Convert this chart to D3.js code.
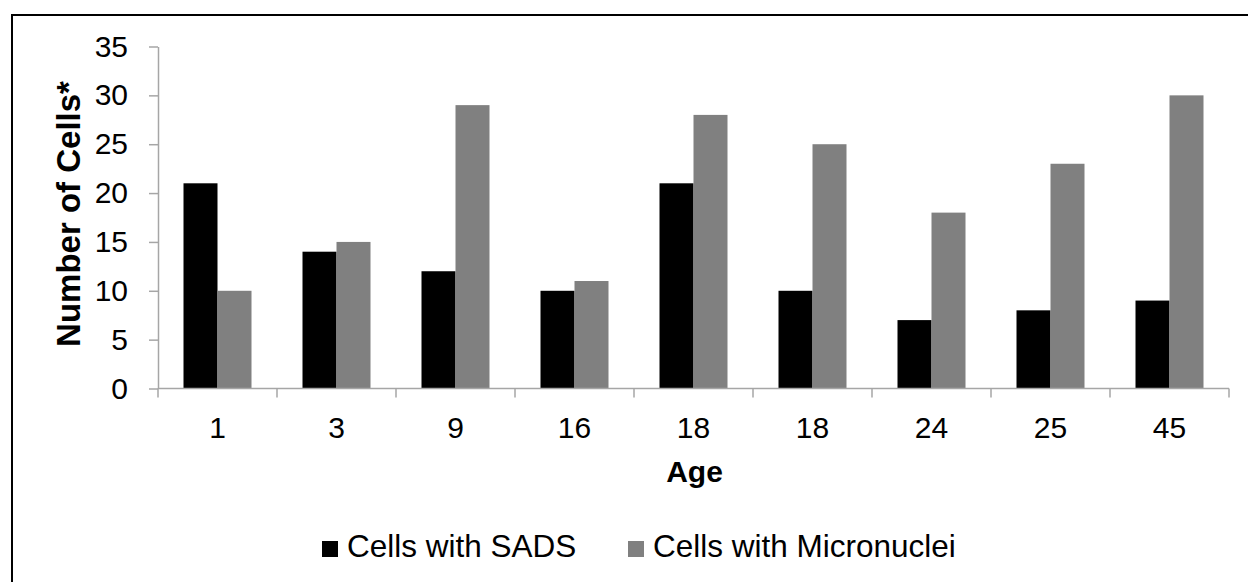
<!DOCTYPE html>
<html>
<head>
<meta charset="utf-8">
<script src="https://cdn.jsdelivr.net/npm/d3@7"></script>
<style>
  html, body { margin: 0; padding: 0; background: #fff; }
  svg { display: block; }
  text { font-family: "Liberation Sans", Arial, sans-serif; fill: #000; }
</style>
</head>
<body>
<script>
// Ages of the sampled individuals (one group of bars each)
const ages = ["1", "3", "9", "16", "18", "18", "24", "25", "45"];
// Cell counts per individual
const sadsCells = [21, 14, 12, 10, 21, 10, 7, 8, 9];
const micronucleiCells = [10, 15, 29, 11, 28, 25, 18, 23, 30];
const seriesNames = ["Cells with SADS", "Cells with Micronuclei"];
const seriesColors = ["#000000", "#808080"];
const yTicks = [0, 5, 10, 15, 20, 25, 30, 35];

const W = 1248, H = 582;
const plot = { left: 158, right: 1229, top: 46.5, bottom: 388.5 };

const svg = d3.select("body").append("svg")
  .attr("width", W).attr("height", H);

// Outer frame
svg.append("rect")
  .attr("x", 12).attr("y", 15)
  .attr("width", 1400).attr("height", 700)
  .attr("fill", "none").attr("stroke", "#000").attr("stroke-width", 2);

const x = d3.scaleBand()
  .domain(d3.range(ages.length))
  .range([plot.left, plot.right])
  .paddingInner(0).paddingOuter(0);

const y = d3.scaleLinear().domain([0, 35]).range([plot.bottom, plot.top]);

const groupPad = 25.5;
const x1 = d3.scaleBand()
  .domain([0, 1])
  .range([groupPad, x.bandwidth() - groupPad]);

const data = ages.map((a, i) => [sadsCells[i], micronucleiCells[i]]);

// Bars
const groups = svg.append("g").selectAll("g")
  .data(data).join("g")
  .attr("transform", (d, i) => `translate(${x(i)},0)`);

groups.selectAll("rect")
  .data(d => d.map((v, s) => ({ v, s })))
  .join("rect")
  .attr("x", d => x1(d.s))
  .attr("width", x1.bandwidth())
  .attr("y", d => y(d.v))
  .attr("height", d => y(0) - y(d.v))
  .attr("fill", d => seriesColors[d.s]);

const axisColor = "#a6a6a6";

// Y axis
const yAxis = svg.append("g")
  .attr("transform", `translate(${plot.left},0)`)
  .call(d3.axisLeft(y).tickValues(yTicks).tickSize(9).tickPadding(21).tickSizeOuter(0));
yAxis.select(".domain").attr("stroke", axisColor).attr("stroke-width", 1.5);
yAxis.selectAll(".tick line").attr("stroke", axisColor).attr("stroke-width", 1.5);
yAxis.selectAll(".tick text")
  .attr("font-size", 30)
  .attr("font-family", "Liberation Sans, Arial, sans-serif")
  .attr("fill", "#000");

// X axis: category ticks on band boundaries
const xAxisG = svg.append("g");
xAxisG.append("line")
  .attr("x1", plot.left).attr("x2", plot.right)
  .attr("y1", plot.bottom).attr("y2", plot.bottom)
  .attr("stroke", axisColor).attr("stroke-width", 1.5);
const boundaries = d3.range(ages.length + 1).map(i => i < ages.length ? x(i) : x(ages.length - 1) + x.bandwidth());
xAxisG.selectAll("line.tk").data(boundaries).join("line")
  .attr("class", "tk")
  .attr("x1", d => d).attr("x2", d => d)
  .attr("y1", plot.bottom).attr("y2", plot.bottom + 9)
  .attr("stroke", axisColor).attr("stroke-width", 1.5);
xAxisG.selectAll("text").data(ages).join("text")
  .attr("x", (d, i) => x(i) + x.bandwidth() / 2)
  .attr("y", 438)
  .attr("text-anchor", "middle")
  .attr("font-size", 30)
  .text(d => d);

// Axis titles
svg.append("text")
  .attr("x", plot.left + (plot.right - plot.left) / 2 + 1)
  .attr("y", 482)
  .attr("text-anchor", "middle")
  .attr("font-size", 30).attr("font-weight", "bold")
  .text("Age");

svg.append("text")
  .attr("transform", "translate(80,214) rotate(-90)")
  .attr("text-anchor", "middle")
  .attr("font-size", 33).attr("font-weight", "bold")
  .text("Number of Cells*");

// Legend
const legendX = [322, 628];
const legend = svg.append("g").selectAll("g")
  .data(seriesNames).join("g")
  .attr("transform", (d, i) => `translate(${legendX[i]},0)`);
legend.append("rect")
  .attr("x", 0).attr("y", 541)
  .attr("width", 16).attr("height", 16)
  .attr("fill", (d, i) => seriesColors[i]);
legend.append("text")
  .attr("x", 25).attr("y", 557)
  .attr("font-size", 31.5)
  .text(d => d);
</script>
</body>
</html>
